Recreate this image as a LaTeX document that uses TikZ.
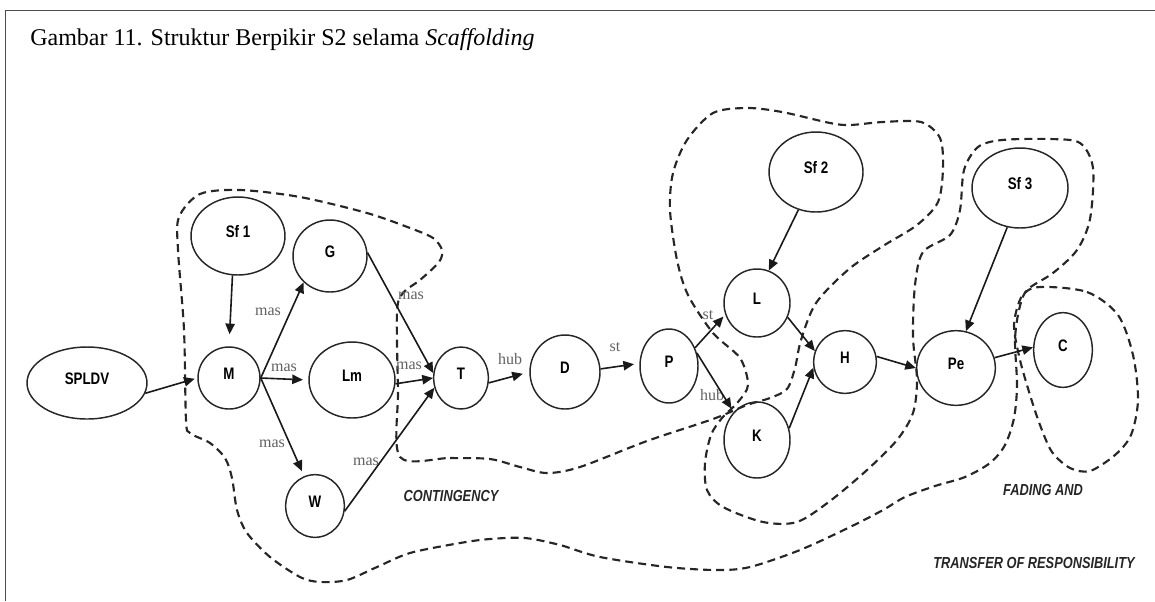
\documentclass[tikz,border=0pt]{standalone}
\usepackage{fontspec}
\setmainfont{Liberation Serif}
\newfontfamily\labelfont[FakeStretch=0.8]{Liberation Sans}
\usetikzlibrary{shapes.geometric,arrows.meta}

\begin{document}
\begin{tikzpicture}[x=0.75pt, y=-0.75pt,
                    bubble/.style={draw=black!85, line width=1.1pt, ellipse, inner sep=0pt, text depth=7pt,
                                   font=\labelfont\bfseries\fontsize{12.5}{14}\selectfont},
                    arr/.style={draw=black!90, line width=1.2pt, -{Triangle[length=8pt,width=7pt]}},
                    rel/.style={inner sep=0pt, text=black!62, font=\fontsize{12}{14}\selectfont},
                    stage/.style={inner sep=0pt, text=black!85, font=\labelfont\bfseries\itshape\fontsize{12}{14}\selectfont},
                    blob/.style={draw=black!85, line width=1.6pt, dash pattern=on 6pt off 3.8pt}]
                \useasboundingbox (0,0) rectangle (1155,601);
                \draw [black!70, line width=0.8pt] (5.5,601) -- (5.5,10.5) -- (1155,10.5);
                \node (title) [anchor=base west, inner sep=0pt, font=\fontsize{18}{21}\selectfont] at (30,45)
                    {Gambar 11. Struktur Berpikir S2 selama \textit{Scaffolding}};

                \draw [blob] plot [smooth cycle, tension=0.5] coordinates {
                    (400,457) (450,458) (490,459) (520,467) (547,473) (580,467) (647,441) (713,419)
                    (747,405) (770,398) (787,389) (795,368) (801,340) (816,303) (849,269) (883,246)
                    (917,225) (938,202) (943,168) (940,138) (921,122) (883,122) (850,125) (830,123)
                    (782,112) (747,108) (713,113) (687,140) (673,173) (670,210) (677,260) (688,295)
                    (713,333) (740,358) (748,385) (738,402) (722,418) (711,435) (705,463) (707,490)
                    (723,507) (763,522) (797,522) (830,501) (867,470) (897,440) (913,413) (917,380)
                    (913,337) (915,285) (923,252) (950,235) (960,210) (964,170) (978,147) (1002,140)
                    (1050,139) (1080,143) (1093,168) (1090,219) (1077,250) (1053,273) (1027,290) (1019,310)
                    (1015,340) (1017,385) (1014,418) (1005,445) (990,463) (965,477) (935,486) (905,497)
                    (883,510) (850,527) (800,550) (750,567) (717,570) (667,567) (600,557) (560,545)
                    (525,538) (490,539) (460,543) (410,553) (377,567) (347,580) (320,582) (300,577)
                    (270,557) (247,533) (237,510) (232,478) (225,458) (210,443) (190,433) (186,420)
                    (184,330) (178,250) (179,217) (200,194) (240,190) (300,197) (367,213) (410,228)
                    (433,238) (442,250) (439,262) (420,280) (403,293) (397,312) (398,390)};
                \draw [blob] plot [smooth cycle, tension=0.5] coordinates {
                    (1040,287) (1087,292) (1118,315) (1133,355) (1138,400) (1131,435) (1115,455) (1090,471)
                    (1070,468) (1052,452) (1040,425) (1030,395) (1020,360) (1014,325) (1022,296)};

                \node (SPLDV) [bubble, minimum width=90pt, minimum height=54pt] at (87,383) {SPLDV};
                \node (Sf1) [bubble, minimum width=70.5pt, minimum height=58.5pt] at (238,236) {Sf 1};
                \node (M) [bubble, minimum width=46.5pt, minimum height=46.5pt] at (229,378) {M};
                \node (G) [bubble, minimum width=55.5pt, minimum height=54pt] at (330,256) {G};
                \node (Lm) [bubble, minimum width=64.5pt, minimum height=57pt] at (352,380) {Lm};
                \node (W) [bubble, minimum width=44pt, minimum height=47pt] at (315,506) {W};
                \node (T) [bubble, minimum width=41pt, minimum height=46.5pt] at (461,378) {T};
                \node (D) [bubble, minimum width=52.5pt, minimum height=55.5pt] at (565,372) {D};
                \node (P) [bubble, minimum width=43.5pt, minimum height=55.5pt] at (669,366) {P};
                \node (L) [bubble, minimum width=49.5pt, minimum height=51pt] at (757,303) {L};
                \node (K) [bubble, minimum width=49.5pt, minimum height=57pt] at (757,440) {K};
                \node (Sf2) [bubble, minimum width=70.5pt, minimum height=60pt] at (816,172) {Sf 2};
                \node (H) [bubble, minimum width=47pt, minimum height=47pt] at (845,362) {H};
                \node (Pe) [bubble, minimum width=59pt, minimum height=56pt] at (956,368) {Pe};
                \node (Sf3) [bubble, minimum width=72pt, minimum height=60pt] at (1020,188) {Sf 3};
                \node (C) [bubble, minimum width=44pt, minimum height=56pt] at (1063,350) {C};

                \node (masMG) [rel] at (268,312) {mas};
                \node (masMLm) [rel] at (284,368) {mas};
                \node (masMW) [rel] at (272,444) {mas};
                \node (masGT) [rel] at (411,296) {mas};
                \node (masLmT) [rel] at (409,366) {mas};
                \node (masWT) [rel] at (366,462) {mas};
                \node (hubTD) [rel] at (510,359) {hub};
                \node (stDP) [rel] at (615,347) {st};
                \node (stPL) [rel] at (708,315) {st};
                \node (hubPK) [rel] at (712,395) {hub};

                \draw [arr, shorten >=2pt] (SPLDV.-10) -- (M.west);
                \draw [arr, shorten >=9pt] (Sf1.-98) -- (M.north);
                \draw [arr] (M.east) -- (G.-135);
                \draw [arr, shorten >=4pt] (M.east) -- (Lm.west);
                \draw [arr, shorten >=4pt] (M.east) -- (W.110);
                \draw [arr] (G.5) -- (T.170);
                \draw [arr] (Lm.-5) -- (T.west);
                \draw [arr] (W.-10) -- (T.-160);
                \draw [arr, shorten >=5pt] (T.-10) -- (D.west);
                \draw [arr, shorten >=4pt] (D.5) -- (P.175);
                \draw [arr, shorten >=2pt] (P.35) -- (L.200);
                \draw [arr, shorten >=3pt] (P.25) -- (K.130);
                \draw [arr] (Sf2.-115) -- (L.70);
                \draw [arr] (L.-25) -- (H.160);
                \draw [arr] (K.20) -- (H.190);
                \draw [arr] (H.10) -- (Pe.180);
                \draw [arr] (Sf3.-108) -- (Pe.75);
                \draw [arr] (Pe.15) -- (C.175);

                \node (contingency) [stage] at (451,496) {CONTINGENCY};
                \node (fading) [stage] at (1043,490) {FADING AND};
                \node (transfer) [stage] at (1034,563) {TRANSFER OF RESPONSIBILITY};
            \end{tikzpicture}
\end{document}
